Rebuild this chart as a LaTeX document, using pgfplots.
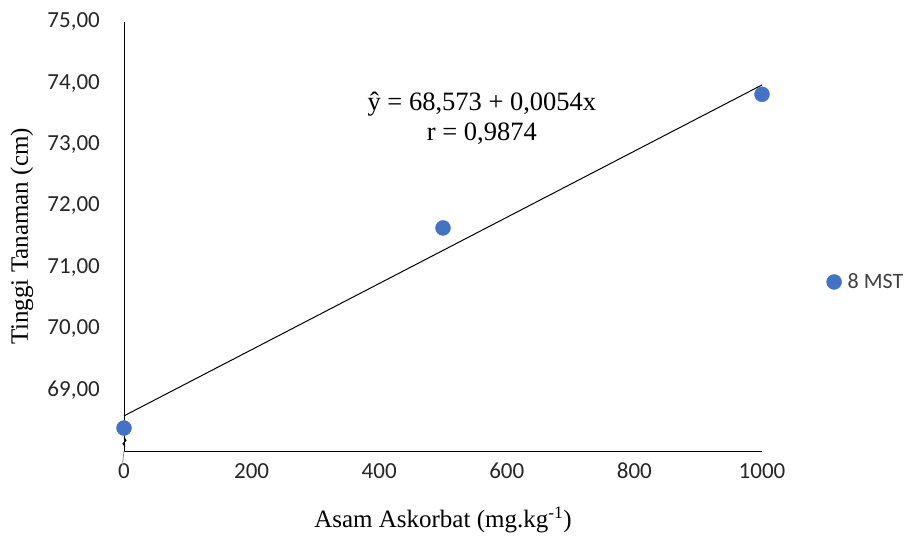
\documentclass[border=0pt]{standalone}
\usepackage{pgfplots}
\pgfplotsset{compat=1.18}
\usepackage{fontspec}
\setmainfont{Liberation Serif}
\newfontfamily\carlito{Carlito}
\definecolor{ptblue}{HTML}{4472C4}
\begin{document}
\begin{tikzpicture}
\useasboundingbox (-124pt,-84pt) rectangle (785pt,451pt);
\begin{axis}[
  at={(0,0)}, anchor=south west,
  scale only axis, width=638pt, height=429pt,
  xmin=0, xmax=1000, ymin=68, ymax=75,
  axis lines*=left,
  axis line style={black, line width=0.9pt, -},
  major tick length=0pt,
  xtick={0,200,400,600,800,1000},
  ytick={69,70,71,72,73,74,75},
  /pgf/number format/assume math mode=true,
  yticklabel style={font=\fontsize{23}{26}\carlito, color=black!85, inner sep=0pt, xshift=-24pt,
     /pgf/number format/.cd, fixed, fixed zerofill, precision=2, use comma},
  xticklabel style={font=\fontsize{23}{26}\carlito, color=black!85, inner sep=0pt, yshift=-12pt,
     /pgf/number format/.cd, fixed, precision=0, 1000 sep={}},
  xlabel={Asam Askorbat (mg.kg\textsuperscript{-1})},
  ylabel={Tinggi Tanaman (cm)},
  xlabel style={font=\fontsize{25}{28}\selectfont, at={(axis description cs:0.5,-0.161)}, anchor=center},
  ylabel style={font=\fontsize{25}{28}\selectfont, at={(axis description cs:-0.160,0.5)}, anchor=center},
  clip=false,
  legend style={at={(axis description cs:1.101,0.394)}, anchor=west, draw=none, fill=none,
     inner sep=0pt, font=\fontsize{22}{24}\carlito\color{black!75}},
  legend cell align=left,
]
\addplot[only marks, mark=*, mark size=7.5pt, color=ptblue] coordinates {
  (0,68.375) (500,71.64) (1000,73.82)
};
\addlegendentry{\hspace{4pt}8 MST}
\addplot[black, line width=1pt, no marks, forget plot] coordinates {
  (0,68.573) (1000,73.973)
};
\node[align=center, font=\fontsize{26.5}{30}\selectfont, inner sep=0pt] at (axis cs:561,73.43)
  {ŷ = 68,573 + 0,0054x\\r = 0,9874};
\draw[black, line width=1pt] (axis cs:0,68.22) -- ++(2pt,-3pt) -- ++(-3pt,-3pt) -- ++(2pt,-3pt);
\draw[black!45, line width=0.8pt] (axis cs:0,68) -- ++(-1.5pt,-14pt);
\end{axis}
\end{tikzpicture}
\end{document}
